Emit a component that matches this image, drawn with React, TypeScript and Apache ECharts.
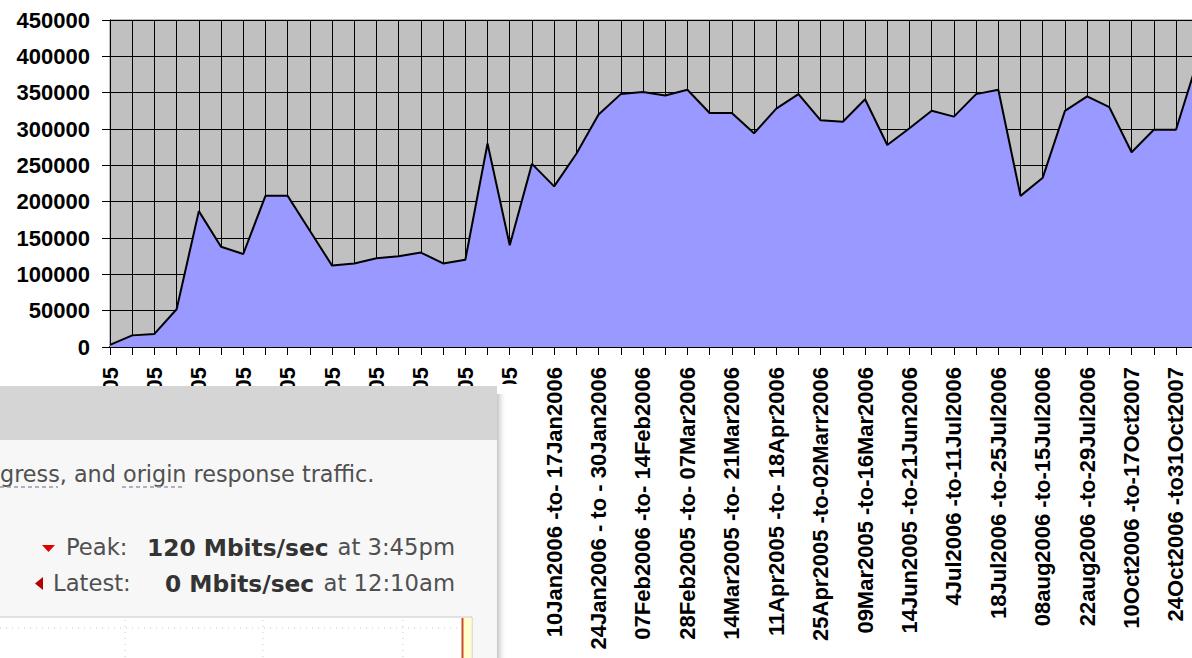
import React, { useEffect, useRef } from "react";
import * as echarts from "echarts";

const categories: string[] = [
  "16Aug2005 -to- 23Aug2005",
  "23Aug2005 -to- 29Aug2005",
  "30Aug2005 -to- 06Sep2005",
  "06Sep2005 -to- 12Sep2005",
  "13Sep2005 -to- 20Sep2005",
  "20Sep2005 -to- 26Sep2005",
  "27Sep2005 -to- 04Oct2005",
  "04Oct2005 -to- 10Oct2005",
  "11Oct2005 -to- 18Oct2005",
  "18Oct2005 -to- 24Oct2005",
  "25Oct2005 -to- 01Nov2005",
  "01Nov2005 -to- 07Nov2005",
  "08Nov2005 -to- 15Nov2005",
  "15Nov2005 -to- 21Nov2005",
  "22Nov2005 -to- 29Nov2005",
  "29Nov2005 -to- 05Dec2005",
  "06Dec2005 -to- 13Dec2005",
  "13Dec2005 -to- 19Dec2005",
  "20Dec2005 -to- 27Dec2005",
  "27Dec2005 -to- 03Jan2006",
  "10Jan2006 -to- 17Jan2006",
  "17Jan2006 -to- 23Jan2006",
  "24Jan2006 - to - 30Jan2006",
  "31Jan2006 -to- 06Feb2006",
  "07Feb2006 -to- 14Feb2006",
  "15Feb2006 -to- 21Feb2006",
  "28Feb2005 -to- 07Mar2006",
  "07Mar2006 -to- 13Mar2006",
  "14Mar2005 -to- 21Mar2006",
  "28Mar2006 -to- 04Apr2006",
  "11Apr2005 -to- 18Apr2006",
  "18Apr2006 -to- 24Apr2006",
  "25Apr2005 -to-02Marr2006",
  "02May2006 -to- 08May2006",
  "09Mar2005 -to-16Mar2006",
  "06Jun2006 -to- 13Jun2006",
  "14Jun2005 -to-21Jun2006",
  "21Jun2006 -to- 27Jun2006",
  "4Jul2006 -to-11Jul2006",
  "11Jul2006 -to- 17Jul2006",
  "18Jul2006 -to-25Jul2006",
  "01aug2006 -to- 07aug2006",
  "08aug2006 -to-15Jul2006",
  "15aug2006 -to- 21aug2006",
  "22aug2006 -to-29Jul2006",
  "03Oct2006 -to- 09Oct2006",
  "10Oct2006 -to-17Oct2007",
  "17Oct2006 -to- 23Oct2006",
  "24Oct2006 -to31Oct2007",
  "31Oct2006 -to- 07Nov2006",
];

const traffic: number[] = [
  3000, 16000, 18000, 52000, 187000, 138000, 128000, 208000, 208000, 160000,
  112000, 115000, 122000, 125000, 130000, 115000, 120000, 280000, 140000, 252000,
  221000, 266000, 320000, 348000, 351000, 346000, 354000, 322000, 322000, 294000,
  328000, 348000, 312000, 310000, 341000, 278000, 301000, 325000, 317000, 348000,
  354000, 208000, 233000, 325000, 345000, 330000, 268000, 299000, 299000, 397000,
];

const yMin = 0;
const yMax = 450000;
const yStep = 50000;

const introText = "gress, and origin response traffic.";
const peakLabel = "Peak:";
const peakValue = "120 Mbits/sec";
const peakTime = "at 3:45pm";
const latestLabel = "Latest:";
const latestValue = "0 Mbits/sec";
const latestTime = "at 12:10am";

export default function App() {
  const ref = useRef<HTMLDivElement>(null);

  useEffect(() => {
    if (!ref.current) return;
    const chart = echarts.init(ref.current, undefined, { renderer: "svg" });
    const ui = "DejaVu Sans";
    const Z = 100;
    const regular = 22.7;
    const bold = 23.3;
    const option: any = {
      animation: false,
      grid: {
        left: 110,
        right: 1.8,
        top: 20,
        bottom: 311,
        show: true,
        backgroundColor: "#c0c0c0",
        borderColor: "#808080",
        borderWidth: 1,
      },
      xAxis: {
        type: "category",
        data: categories,
        boundaryGap: false,
        axisLine: { show: true, lineStyle: { color: "#000", width: 2 } },
        axisTick: { show: true, interval: 0, length: 8, lineStyle: { color: "#000" } },
        splitLine: { show: true, interval: 0, lineStyle: { color: "#000", width: 1 } },
        axisLabel: {
          interval: 1,
          rotate: 90,
          margin: 20,
          fontFamily: "Liberation Sans, Arial",
          fontWeight: "bold",
          fontSize: 22,
          color: "#000",
        },
      },
      yAxis: {
        type: "value",
        min: yMin,
        max: yMax,
        interval: yStep,
        axisLine: { show: true, lineStyle: { color: "#000", width: 1 } },
        axisTick: { show: true, length: 8, lineStyle: { color: "#000" } },
        splitLine: { show: true, lineStyle: { color: "#000", width: 1 } },
        axisLabel: {
          margin: 20,
          formatter: (v: number) => String(v),
          fontFamily: "Liberation Sans, Arial",
          fontWeight: "bold",
          fontSize: 22,
          color: "#000",
        },
      },
      series: [
        {
          type: "line",
          data: traffic,
          symbol: "none",
          lineStyle: { color: "#000", width: 2 },
          areaStyle: { color: "#9999ff", opacity: 1 },
        },
      ],
      graphic: [
        {
          type: "rect",
          z: Z,
          shape: { x: 497, y: 384, width: 42, height: 280 },
          style: { fill: "#ffffff" },
        },
        {
          type: "rect",
          z: Z,
          shape: { x: 497, y: 394, width: 10, height: 264 },
          style: {
            fill: new echarts.graphic.LinearGradient(0, 0, 1, 0, [
              { offset: 0, color: "#c4c4c4" },
              { offset: 1, color: "rgba(255,255,255,0)" },
            ]),
          },
        },
        {
          type: "rect",
          z: Z,
          shape: { x: -1, y: 386, width: 498, height: 280 },
          style: { fill: "#f7f7f7" },
        },
        {
          type: "rect",
          z: Z,
          shape: { x: -1, y: 386, width: 498, height: 54 },
          style: { fill: "#d5d5d5" },
        },
        {
          type: "text",
          z: Z + 1,
          x: 0,
          y: 474,
          style: {
            text: introText,
            align: "left",
            verticalAlign: "middle",
            fontFamily: ui,
            fontSize: 22.3,
            fill: "#505050",
          },
        },
        {
          type: "line",
          z: Z + 1,
          shape: { x1: 0, y1: 487, x2: 58, y2: 487 },
          style: { stroke: "#9a9aa8", lineWidth: 1.5, lineDash: [4, 3] },
        },
        {
          type: "line",
          z: Z + 1,
          shape: { x1: 122, y1: 487, x2: 185, y2: 487 },
          style: { stroke: "#9a9aa8", lineWidth: 1.5, lineDash: [4, 3] },
        },
        {
          type: "polygon",
          z: Z + 1,
          shape: { points: [[42, 545], [55, 545], [48.5, 552]] },
          style: { fill: "#e00000" },
        },
        {
          type: "polygon",
          z: Z + 1,
          shape: { points: [[43, 577], [43, 590], [35, 583.5]] },
          style: { fill: "#b00000" },
        },
        {
          type: "text",
          z: Z + 1,
          x: 66,
          y: 547,
          style: { text: peakLabel, align: "left", verticalAlign: "middle", fontFamily: ui, fontSize: regular, fill: "#505050" },
        },
        {
          type: "text",
          z: Z + 1,
          x: 147,
          y: 547,
          style: { text: peakValue, align: "left", verticalAlign: "middle", fontFamily: ui, fontWeight: "bold", fontSize: bold, fill: "#333" },
        },
        {
          type: "text",
          z: Z + 1,
          x: 455,
          y: 547,
          style: { text: peakTime, align: "right", verticalAlign: "middle", fontFamily: ui, fontSize: regular, fill: "#505050" },
        },
        {
          type: "text",
          z: Z + 1,
          x: 53,
          y: 583,
          style: { text: latestLabel, align: "left", verticalAlign: "middle", fontFamily: ui, fontSize: regular, fill: "#505050" },
        },
        {
          type: "text",
          z: Z + 1,
          x: 165,
          y: 583,
          style: { text: latestValue, align: "left", verticalAlign: "middle", fontFamily: ui, fontWeight: "bold", fontSize: bold, fill: "#333" },
        },
        {
          type: "text",
          z: Z + 1,
          x: 455,
          y: 583,
          style: { text: latestTime, align: "right", verticalAlign: "middle", fontFamily: ui, fontSize: regular, fill: "#505050" },
        },
        {
          type: "rect",
          z: Z + 1,
          shape: { x: -1, y: 617, width: 473, height: 60 },
          style: { fill: "#fff", stroke: "#c8c8c8", lineWidth: 1 },
        },
        {
          type: "line",
          z: Z + 2,
          shape: { x1: 0, y1: 628, x2: 462, y2: 628 },
          style: { stroke: "#c8c8c8", lineWidth: 1, lineDash: [1, 5] },
        },
        {
          type: "line",
          z: Z + 2,
          shape: { x1: 125, y1: 620, x2: 125, y2: 658 },
          style: { stroke: "#c8c8c8", lineWidth: 1, lineDash: [1, 5] },
        },
        {
          type: "line",
          z: Z + 2,
          shape: { x1: 263, y1: 620, x2: 263, y2: 658 },
          style: { stroke: "#c8c8c8", lineWidth: 1, lineDash: [1, 5] },
        },
        {
          type: "line",
          z: Z + 2,
          shape: { x1: 403, y1: 620, x2: 403, y2: 658 },
          style: { stroke: "#c8c8c8", lineWidth: 1, lineDash: [1, 5] },
        },
        {
          type: "rect",
          z: Z + 2,
          shape: { x: 463.5, y: 618, width: 8, height: 45 },
          style: { fill: "#ffffcc" },
        },
        {
          type: "line",
          z: Z + 3,
          shape: { x1: 462.5, y1: 618, x2: 462.5, y2: 660 },
          style: { stroke: "#cc4b24", lineWidth: 2 },
        },
      ],
    };
    chart.setOption(option);
    return () => chart.dispose();
  }, []);

  return (
    <div
      style={{
        position: "fixed",
        left: 0,
        top: 0,
        width: 1192,
        height: 658,
        overflow: "hidden",
        background: "#fff",
      }}
    >
      <div ref={ref} style={{ width: 1200, height: 658 }} />
    </div>
  );
}
